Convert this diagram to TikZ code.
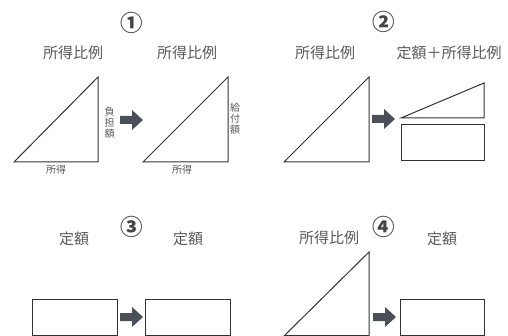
\documentclass[tikz,border=0pt]{standalone}
\usepackage{fontspec}
\setmainfont{Noto Sans CJK JP}
\begin{document}
\begin{tikzpicture}[x=1pt,y=-1pt,
  outl/.style={draw=linegray,line width=1pt,line join=miter},
  lbl/.style={text=textgray,font=\fontsize{15}{15}\selectfont,inner sep=0},
  small/.style={text=textgray,font=\fontsize{10}{11}\selectfont,inner sep=0,align=center},
  num/.style={text=numgray,font=\fontsize{22.5}{22.5}\selectfont\bfseries,inner sep=0},
  barrow/.style={fill=arrowgray}]
\definecolor{linegray}{HTML}{333333}
\definecolor{textgray}{HTML}{585858}
\definecolor{numgray}{HTML}{444444}
\definecolor{arrowgray}{HTML}{4B4F58}
\useasboundingbox (0,0) rectangle (508,336);
% circled numbers
\node[num] (n1) at (132,23) {①};
\node[num] (n2) at (384,22) {②};
\node[num] (n3) at (132,227) {③};
\node[num] (n4) at (384,227) {④};
% titles
\node[lbl] (t1a) at (73,53) {所得比例};
\node[lbl] (t1b) at (187,53) {所得比例};
\node[lbl] (t2a) at (325,53) {所得比例};
\node[lbl] (t2b) at (449,53) {定額＋所得比例};
\node[lbl] (t3a) at (74,239) {定額};
\node[lbl] (t3b) at (188,239) {定額};
\node[lbl] (t4a) at (329,238) {所得比例};
\node[lbl] (t4b) at (442,239) {定額};
% panel 1
\draw[outl] (14,162) -- (98,77) -- (98,162) -- cycle;
\draw[outl] (143,162) -- (228,77) -- (228,162) -- cycle;
\node[small] (s1) at (56,169.5) {所得};
\node[small] (s2) at (182,169.5) {所得};
\node[small] (v1) at (109.5,123) {負\\担\\額};
\node[small] (v2) at (235,118.5) {給\\付\\額};
% panel 2
\draw[outl] (284,162) -- (369,77) -- (369,162) -- cycle;
\draw[outl] (401,118) -- (484,83) -- (484,118) -- cycle;
\draw[outl] (401,125) rectangle (484,161);
% panel 3
\draw[outl] (32,299) rectangle (117,335);
\draw[outl] (145,299) rectangle (230,335);
% panel 4
\draw[outl] (284,336) -- (369,252) -- (369,336);
\draw[outl] (284,335) -- (369,335);
\draw[outl] (400,299) rectangle (484,335);
% block arrows
\foreach \x/\y in {120/120,372/119,120/317,373/317}{
  \fill[barrow] (\x,\y-4) -- (\x+12,\y-4) -- (\x+12,\y-10) -- (\x+23,\y) -- (\x+12,\y+10) -- (\x+12,\y+4) -- (\x,\y+4) -- cycle;
}
\end{tikzpicture}
\end{document}
